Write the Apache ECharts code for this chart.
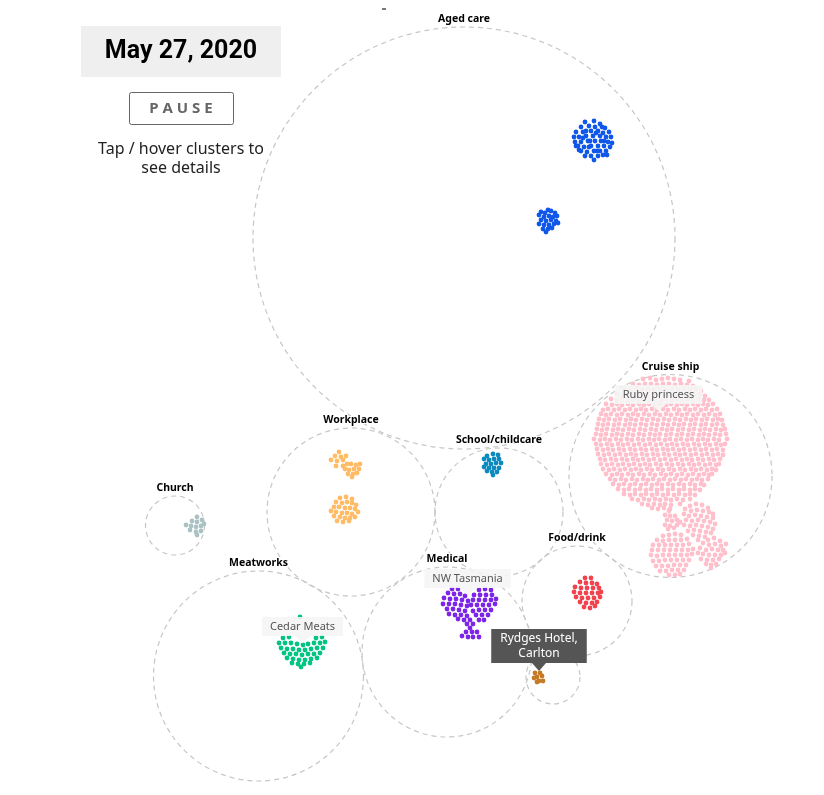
<!DOCTYPE html>
<html>
<head>
<meta charset="utf-8">
<style>html,body{margin:0;padding:0;background:#fff}#chart{width:824px;height:795px}</style>
<script src="https://cdn.jsdelivr.net/npm/echarts@6/dist/echarts.min.js"></script>
</head>
<body>
<div id="chart"></div>
<script>
// circles: name, centre x, centre y, radius
var groupCircles = [
  ["Aged care", 464, 238, 211],
  ["Cruise ship", 670.5, 476, 101.5],
  ["Workplace", 351, 512, 84],
  ["School/childcare", 499, 512, 64],
  ["Church", 175, 525.5, 29.5],
  ["Meatworks", 258.5, 676, 105],
  ["Medical", 447, 652, 85],
  ["Food/drink", 577, 601, 55],
  ["", 553, 677, 27]
];

// callouts: pointer centre x, pointer centre y, text
var calloutsLight = [
  [658.5, 407.5, "Ruby princess"],
  [302.5, 639.5, "Cedar Meats"],
  [467.5, 591.5, "NW Tasmania"]
];
var calloutsDark = [
  [539, 667, "Rydges Hotel,\nCarlton"]
];

var agedCareA = [[585,122],[594,121],[600,124],[581,127],[589,126],[595,127],[605,128],[576,132],[583,132],[591,131],[598,131],[603,133],[609,132],[574,137],[579,137],[586,136],[593,136],[600,136],[606,137],[611,137],[575,142],[581,142],[588,141],[595,141],[601,141],[608,142],[612,143],[578,146],[584,147],[591,146],[598,146],[604,146],[610,147],[581,151],[587,152],[594,151],[600,151],[606,151],[585,156],[591,156],[598,156],[603,155],[594,160],[589,147],[596,133],[579,150],[607,155],[583,138],[590,141],[602,127],[586,131],[597,151],[576,146],[604,141]];
var agedCareB = [[548,210],[541,212],[545,213],[551,211],[555,213],[539,215],[544,217],[549,216],[553,217],[557,216],[541,220],[546,221],[551,220],[556,221],[539,224],[544,225],[549,225],[554,224],[558,223],[543,229],[548,229],[552,228],[546,232]];
var cruiseMain = [
[643,379],[650,378],[656,380],[662,379],[668,378],[674,379],[680,380],[689,381],
[633,384],[639,385],[645,384],[651,384],[657,385],[663,384],[669,384],[675,385],[681,384],[687,385],[693,386],
[624,389],[630,390],[636,389],[642,390],[648,389],[654,390],[660,389],[666,390],[672,389],[678,390],[684,389],[690,390],[696,389],[701,391],
[617,394],[623,395],[629,394],[635,395],[641,394],[647,395],[653,394],[659,395],[665,394],[671,395],[677,394],[683,395],[689,394],[694,395],[700,394],[705,396],
[611,399],[617,400],[622,399],[628,400],[633,399],[639,400],[644,399],[650,400],[655,399],[661,400],[666,399],[672,400],[677,399],[683,400],[688,399],[693,400],[699,399],[704,400],[709,400],
[606,404],[612,405],[617,404],[622,405],[628,404],[633,405],[639,404],[644,405],[649,404],[655,405],[660,404],[666,405],[671,404],[677,405],[682,404],[687,405],[693,404],[698,405],[703,404],[708,405],[713,404],
[603,410],[608,409],[614,410],[619,409],[625,410],[630,409],[636,410],[641,409],[646,410],[652,409],[657,410],[663,409],[668,410],[674,409],[679,410],[685,409],[690,410],[695,409],[701,410],[706,409],[712,410],[717,409],
[601,414],[606,415],[611,414],[617,415],[622,414],[628,415],[633,414],[638,415],[644,414],[649,415],[655,414],[660,415],[666,414],[671,415],[677,414],[682,415],[687,414],[693,415],[698,414],[704,415],[709,414],[715,415],[720,414],
[599,419],[604,420],[609,419],[615,420],[620,419],[626,420],[631,419],[636,420],[642,419],[647,420],[653,419],[658,420],[664,419],[669,420],[675,419],[680,420],[686,419],[691,420],[696,419],[702,420],[707,419],[713,420],[718,419],[722,420],
[598,424],[603,425],[608,424],[614,425],[619,424],[625,425],[630,424],[635,425],[641,424],[646,425],[652,424],[657,425],[663,424],[668,425],[674,424],[679,425],[684,424],[690,425],[695,424],[701,425],[706,424],[712,425],[717,424],[723,425],
[597,429],[602,430],[607,429],[613,430],[618,429],[623,430],[629,429],[634,430],[640,429],[645,430],[651,429],[656,430],[662,429],[667,430],[672,429],[678,430],[683,429],[689,430],[694,429],[700,430],[705,429],[710,430],[716,429],[721,430],[725,429],
[596,434],[601,435],[606,434],[612,435],[617,434],[622,435],[628,434],[633,435],[639,434],[644,435],[650,434],[655,435],[660,434],[666,435],[671,434],[677,435],[682,434],[688,435],[693,434],[699,435],[704,434],[709,435],[715,434],[720,435],[726,434],
[594,439],[600,440],[605,439],[610,440],[616,439],[621,440],[627,439],[632,440],[638,439],[643,440],[649,439],[654,440],[659,439],[665,440],[670,439],[676,440],[681,439],[687,440],[692,439],[698,440],[703,439],[708,440],[714,439],[719,440],[727,439],
[596,444],[601,445],[607,444],[612,445],[618,444],[623,445],[628,444],[634,445],[639,444],[645,445],[650,444],[656,445],[661,444],[667,445],[672,444],[677,445],[683,444],[688,445],[694,444],[699,445],[705,444],[710,445],[716,444],[721,445],[725,444],
[597,449],[603,450],[608,449],[613,450],[619,449],[624,450],[630,449],[635,450],[641,449],[646,450],[652,449],[657,450],[663,449],[668,450],[673,449],[679,450],[684,449],[690,450],[695,449],[701,450],[706,449],[712,450],[717,449],[723,450],
[598,454],[604,455],[609,454],[615,455],[620,454],[626,455],[631,454],[636,455],[642,454],[647,455],[653,454],[658,455],[664,454],[669,455],[675,454],[680,455],[685,454],[691,455],[696,454],[702,455],[707,454],[713,455],[718,454],[723,455],
[600,459],[605,460],[611,459],[616,460],[622,459],[627,460],[633,459],[638,460],[643,459],[649,460],[654,459],[660,460],[665,459],[671,460],[676,459],[682,460],[687,459],[692,460],[698,459],[703,460],[709,459],[714,460],[720,459],
[601,464],[607,465],[612,464],[618,465],[623,464],[629,465],[634,464],[640,465],[645,464],[650,465],[656,464],[661,465],[667,464],[672,465],[678,464],[683,465],[689,464],[694,465],[699,464],[705,465],[710,464],[716,465],[719,464],
[603,469],[609,470],[614,469],[620,470],[625,469],[631,470],[636,469],[641,470],[647,469],[652,470],[658,469],[663,470],[669,469],[674,470],[680,469],[685,470],[691,469],[696,470],[701,469],[707,470],[712,469],[716,470],
[606,474],[612,475],[617,474],[622,475],[628,474],[633,475],[639,474],[644,475],[650,474],[655,475],[661,474],[666,475],[671,474],[677,475],[682,474],[688,475],[693,474],[699,475],[704,474],[709,475],[712,474],
[610,479],[615,480],[621,479],[626,480],[632,479],[637,480],[643,479],[648,480],[653,479],[659,480],[664,479],[670,480],[675,479],[681,480],[686,479],[692,480],[697,479],[702,480],[708,479],
[613,484],[619,485],[624,484],[630,485],[635,484],[641,485],[646,484],[652,485],[657,484],[662,485],[668,484],[673,485],[679,484],[684,485],[690,484],[695,485],[701,484],[704,485],
[618,489],[624,490],[629,489],[635,490],[640,489],[646,490],[651,489],[657,490],[662,489],[668,490],[673,489],[679,490],[684,489],[690,490],[695,489],[700,490],
[624,494],[630,495],[635,494],[641,495],[646,494],[652,495],[657,494],[663,495],[668,494],[674,495],[679,494],[685,495],[690,494],[695,495],
[632,499],[638,500],[644,499],[649,500],[655,499],[660,500],[666,499],[671,500],[677,499],[683,500],[690,499],
[642,504],[648,505],[654,504],[660,505],[665,504],[671,505],[680,504],
[652,508],[658,509],[664,508],[670,509]
];
var cruiseSmallA = [[696,504],[690,506],[702,505],[708,508],[685,509],[691,511],[697,510],[703,511],[709,512],[713,514],[684,514],[689,516],[695,515],[701,516],[707,517],[713,518],[686,520],[692,521],[698,520],[704,521],[710,522],[715,524],[684,525],[690,526],[696,525],[702,526],[708,527],[713,529],[688,531],[694,530],[700,531],[706,532],[711,533],[693,535],[699,536],[705,537],[698,540]];
var cruiseSmallB = [[669,511],[665,515],[670,516],[675,516],[667,520],[672,521],[677,520],[680,522],[665,525],[670,526],[677,525],[668,529],[674,528]];
var cruiseSmallC = [[663,536],[669,535],[675,534],[681,535],[657,540],[663,541],[669,540],[675,540],[681,540],[687,539],[653,545],[659,545],[665,545],[671,545],[677,545],[683,545],[689,544],[652,550],[658,550],[664,550],[670,550],[676,550],[682,550],[688,550],[693,549],[651,555],[657,556],[663,555],[669,555],[675,555],[681,555],[687,555],[692,554],[653,561],[659,561],[665,560],[671,560],[677,560],[683,560],[689,560],[656,566],[662,566],[668,566],[674,565],[680,565],[686,565],[660,571],[666,571],[672,570],[678,570],[684,570],[669,575],[675,575],[680,574]];
var cruiseSmallD = [[714,538],[708,540],[720,541],[703,543],[709,545],[715,544],[721,546],[726,544],[700,548],[706,550],[712,549],[718,550],[723,550],[698,553],[703,554],[709,555],[715,555],[721,555],[725,553],[701,559],[707,560],[713,560],[719,559],[711,565],[716,564],[706,564],[711,568]];
var workplaceA = [[339,452],[335,456],[341,457],[346,456],[331,460],[337,461],[343,460],[347,464],[336,466],[343,466],[351,464],[356,465],[360,464],[345,469],[349,470],[354,469],[359,469],[348,474],[353,474],[357,473],[352,477]];
var workplaceB = [[346,497],[340,498],[352,499],[336,502],[342,503],[347,502],[352,503],[356,505],[334,507],[339,507],[345,508],[350,508],[355,509],[331,511],[336,512],[342,513],[347,513],[352,514],[358,512],[334,516],[340,517],[345,518],[350,518],[355,517],[337,521],[343,522],[349,521]];
var schoolA = [[493,454],[487,456],[498,455],[484,459],[489,460],[494,459],[499,459],[486,464],[491,464],[496,463],[501,463],[484,467],[489,468],[494,468],[499,468],[487,471],[492,472],[497,472],[493,475]];
var churchA = [[197,517],[192,521],[197,522],[202,520],[186,525],[191,526],[196,527],[201,526],[190,530],[196,532],[201,531],[197,535],[204,524]];
var meatworksA = [[300,617],[283,638],[289,637],[316,638],[322,637],[279,643],[285,643],[291,643],[297,644],[303,645],[308,644],[314,643],[320,643],[325,642],[281,648],[287,649],[293,649],[299,650],[305,650],[311,649],[317,648],[323,648],[284,653],[290,654],[296,654],[302,655],[308,654],[314,654],[320,653],[287,658],[293,659],[299,660],[305,660],[311,659],[317,658],[292,663],[298,664],[304,664],[310,663],[301,667]];
var medicalA = [[452,589],[458,589],[448,593],[454,594],[460,594],[465,596],[479,590],[485,589],[491,590],[444,598],[450,599],[456,599],[462,600],[468,601],[474,595],[480,595],[486,595],[492,595],[443,604],[449,604],[455,604],[461,605],[467,606],[473,600],[479,600],[485,600],[491,600],[496,599],[447,609],[453,609],[459,610],[465,611],[471,605],[477,605],[483,605],[489,605],[495,604],[449,614],[455,615],[461,615],[467,616],[473,611],[479,610],[485,610],[491,610],[458,619],[464,620],[470,620],[476,615],[482,615],[488,615],[467,624],[473,624],[479,620],[484,620],[470,628],[466,632],[472,632],[477,632],[462,636],[468,637],[473,637],[479,637]];
var foodA = [[585,578],[591,578],[580,582],[586,583],[592,583],[597,584],[575,587],[581,588],[587,588],[593,588],[599,588],[574,592],[580,593],[586,593],[592,593],[598,593],[601,592],[576,597],[582,598],[588,598],[594,598],[600,597],[580,602],[586,603],[592,603],[597,602],[584,607],[590,608],[595,606]];
var hotelA = [[535,673],[540,673],[537,677],[542,676],[534,678],[539,681],[543,681],[537,682]];

var dotClusters = [
  [agedCareA, "#0f57e9"], [agedCareB, "#0f57e9"],
  [cruiseMain, "#ffc0cb"], [cruiseSmallA, "#ffc0cb"], [cruiseSmallB, "#ffc0cb"], [cruiseSmallC, "#ffc0cb"], [cruiseSmallD, "#ffc0cb"],
  [workplaceA, "#ffbb66"], [workplaceB, "#ffbb66"],
  [schoolA, "#0c8abf"],
  [churchA, "#abc2c4"],
  [meatworksA, "#00c481"],
  [medicalA, "#7c24e8"],
  [foodA, "#f0434e"],
  [hotelA, "#c67a26"]
];

var chart = echarts.init(document.getElementById("chart"));
var fontName = "'Noto Sans', sans-serif";

var seriesList = [{
  type: "scatter",
  data: groupCircles.map(function (c) { return { name: c[0], value: [c[1], c[2], c[3]] }; }),
  symbolSize: function (v) { return v[2] * 2; },
  itemStyle: { color: "rgba(0,0,0,0)", opacity: 1, borderColor: "#c6c6c6", borderWidth: 1.2, borderType: [5, 4] },
  label: { show: true, position: "top", distance: 1.5, formatter: "{b}", color: "#000", fontFamily: fontName, fontSize: 10.5, fontWeight: "bold", textBorderColor: "#fff", textBorderWidth: 2 },
  z: 1
}];

dotClusters.forEach(function (c) {
  seriesList.push({
    type: "scatter",
    data: c[0],
    symbolSize: 4.8,
    itemStyle: { color: c[1], opacity: 1 },
    z: 2
  });
});

seriesList.push({
  type: "scatter",
  data: calloutsLight.map(function (c) { return { name: c[2], value: [c[0], c[1]] }; }),
  symbol: "triangle",
  symbolRotate: 180,
  symbolSize: [16, 7],
  itemStyle: { color: "rgba(245,245,245,0.9)", opacity: 1 },
  label: { show: true, position: "top", distance: 0, formatter: "{b}", color: "#555", fontFamily: fontName, fontSize: 11, backgroundColor: "rgba(245,245,245,0.9)", padding: [4, 8] },
  z: 3
}, {
  type: "scatter",
  data: calloutsDark.map(function (c) { return { name: c[2], value: [c[0], c[1]] }; }),
  symbol: "triangle",
  symbolRotate: 180,
  symbolSize: [14, 8],
  itemStyle: { color: "#555", opacity: 1 },
  label: { show: true, position: "top", distance: 0, formatter: "{b}", color: "#fff", fontFamily: fontName, fontSize: 12, lineHeight: 15, align: "center", backgroundColor: "#555", padding: [2, 9] },
  z: 4
});

chart.setOption({
  animation: false,
  grid: { left: 0, right: 0, top: 0, bottom: 0 },
  xAxis: { type: "value", min: 0, max: 824, show: false },
  yAxis: { type: "value", min: 0, max: 795, inverse: true, show: false },
  series: seriesList,
  graphic: [
    { type: "rect", shape: { x: 81, y: 26, width: 200, height: 51 }, style: { fill: "#efefef" } },
    { type: "text", x: 181, y: 52, style: { text: "May 27, 2020", font: "bold 25px Roboto, sans-serif", fill: "#000", align: "center", verticalAlign: "middle" } },
    { type: "rect", shape: { x: 129.5, y: 92.5, width: 104, height: 32, r: 2 }, style: { fill: "#fff", stroke: "#666", lineWidth: 1 } },
    { type: "text", x: 181, y: 109, style: { text: "P A U S E", font: "bold 15px " + fontName, fill: "#666", align: "center", verticalAlign: "middle" } },
    { type: "text", x: 181, y: 159, style: { text: "Tap / hover clusters to\nsee details", font: "16px " + fontName, fill: "#222", align: "center", verticalAlign: "middle", lineHeight: 19 } },
    { type: "rect", shape: { x: 382, y: 8, width: 4, height: 2 }, style: { fill: "#777" } }
  ]
});
</script>
</body>
</html>
